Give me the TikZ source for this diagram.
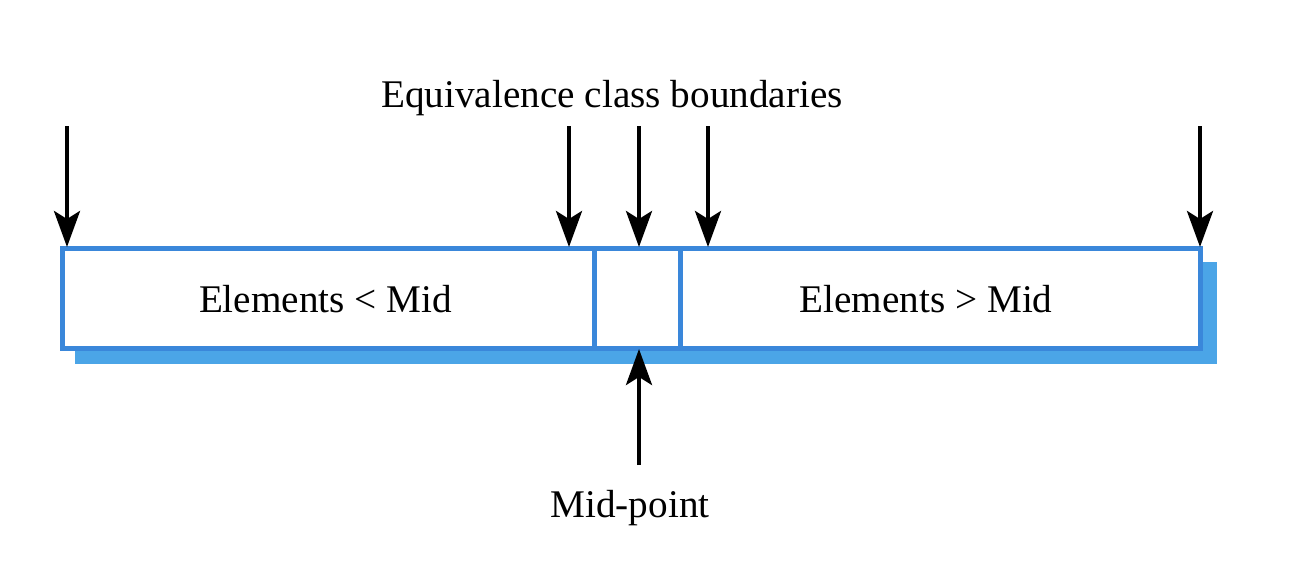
\documentclass[tikz,border=0pt]{standalone}
\usepackage{fontspec}
\setmainfont{Liberation Serif}
\usetikzlibrary{arrows.meta}
\definecolor{boxline}{HTML}{3A87DA}
\definecolor{shadowblue}{HTML}{4BA5E7}
\begin{document}
\begin{tikzpicture}[x=0.5pt,y=-0.5pt,
  cell/.style={draw=boxline,line width=2.2pt,fill=white,rectangle,inner sep=0pt,outer sep=0pt,anchor=north west,minimum height=50pt},
  lbl/.style={font=\fontsize{19.6}{23}\selectfont,inner sep=0pt,anchor=base},
  arr/.style={line width=2pt,-{Stealth[length=18pt,width=13pt,inset=4pt]}}]
\useasboundingbox (0,0) rectangle (1298,562);
% shadow
\fill[shadowblue] (75,262) rectangle (1217,364);
% cells
\node[cell,minimum width=266pt] (L) at (62.5,248.5) {};
\node[cell,minimum width=43pt] (M) at (594.5,248.5) {};
\node[cell,minimum width=260pt] (R) at (680.5,248.5) {};
\node[lbl] (lt) at (325.5,312) {Elements < Mid};
\node[lbl] (rt) at (926,312) {Elements > Mid};
\node[lbl] (top) at (612,107) {Equivalence class boundaries};
\node[lbl] (mp) at (630,517) {Mid-point};
% arrow start coordinates
\coordinate (a1) at (67,126);
\coordinate (a2) at (569,126);
\coordinate (a3) at (639,126);
\coordinate (a4) at (708,126);
\coordinate (a5) at (1200,126);
\coordinate (b1) at (67,247);
\coordinate (b2) at (569,247);
\coordinate (b3) at (639,247);
\coordinate (b4) at (708,247);
\coordinate (b5) at (1200,247);
\coordinate (u0) at (639,465);
\coordinate (u1) at (639,349);
\draw[arr] (a1) -- (b1);
\draw[arr] (a2) -- (b2);
\draw[arr] (a3) -- (b3);
\draw[arr] (a4) -- (b4);
\draw[arr] (a5) -- (b5);
\draw[arr] (u0) -- (u1);
\end{tikzpicture}
\end{document}
